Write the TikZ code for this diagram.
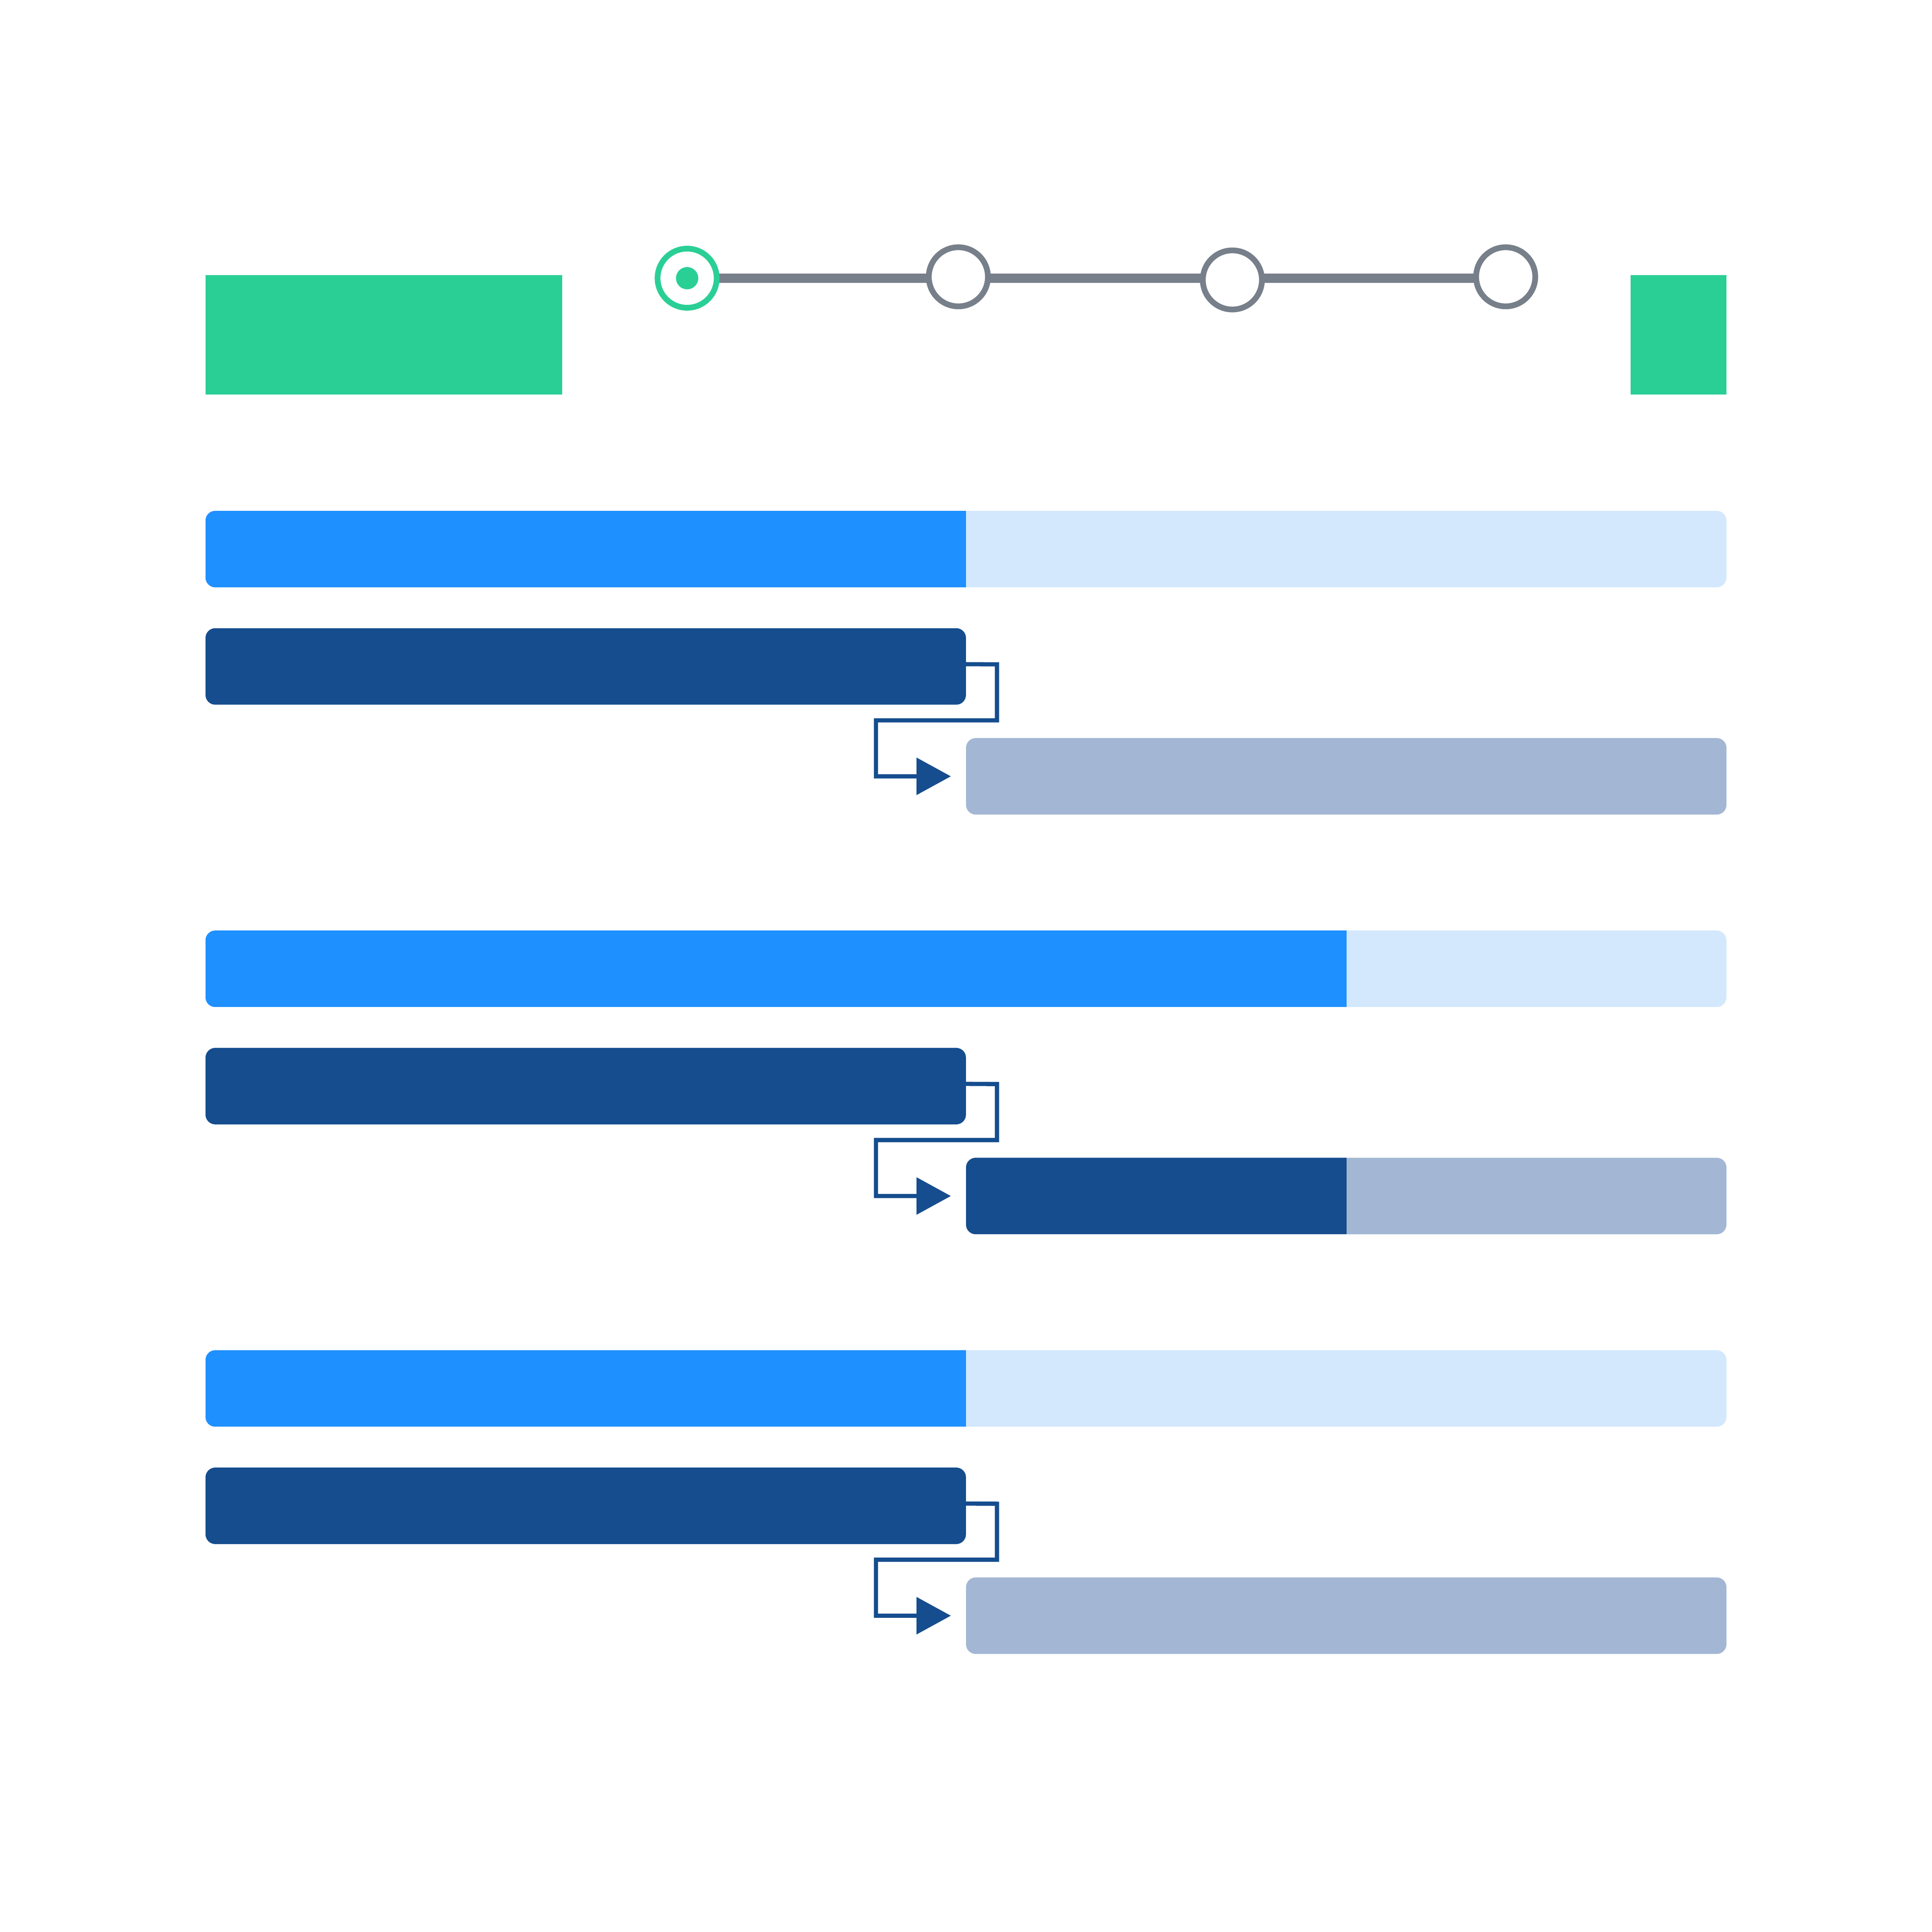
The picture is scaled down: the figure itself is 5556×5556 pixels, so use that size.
\documentclass[tikz,border=0pt]{standalone}
\usetikzlibrary{arrows.meta,backgrounds}
\definecolor{greenc}{RGB}{42,207,150}
\definecolor{greyc}{RGB}{119,127,138}
\definecolor{bluec}{RGB}{30,144,255}
\definecolor{lightc}{RGB}{211,232,253}
\definecolor{darkc}{RGB}{21,77,142}
\definecolor{paleb}{RGB}{163,183,212}
\tikzset{
  bar/.style={rectangle, inner sep=0pt, outer sep=0pt, minimum height=22pt, anchor=north west, rounded corners=2.8pt},
  ms/.style={circle, draw=greyc, fill=white, minimum size=17pt, inner sep=0pt, outer sep=0pt, line width=1.65pt},
  tl/.style={draw=greyc, line width=2.6pt},
  conn/.style={draw=darkc, line width=1.2pt, -{Triangle[length=9.9pt,width=10.5pt]}},
}
\begin{document}
\begin{tikzpicture}[x=0.1pt,y=-0.1pt]
\useasboundingbox (0,0) rectangle (5556,5556);
% header
\fill[greenc] (591,791) rectangle (1617,1135);
\fill[greenc] (4689,791) rectangle (4965,1135);
\node[ms, draw=greenc] (c1) at (1976,800) {};
\fill[greenc] (c1.center) circle (3.2pt);
\node[ms] (c2) at (2756,796) {};
\node[ms] (c3) at (3544,805) {};
\node[ms] (c4) at (4330,796) {};
\begin{scope}[on background layer]
  \fill[white] (0,0) rectangle (5556,5556);
  \draw[tl] (c1.center) -- (c1.center -| c4.center);
\end{scope}
% group 1
\node[bar, fill=lightc, minimum width=437.4pt] (p1) at (591,1469) {};
\begin{scope}
  \clip[rounded corners=2.8pt] (p1.north west) rectangle (p1.south east);
  \fill[bluec] (p1.north west) rectangle (2778,1689);
\end{scope}
\node[bar, fill=darkc, minimum width=218.7pt] (d1) at (591,1806.5) {};
\node[bar, fill=paleb, minimum width=218.7pt] (g1) at (2778,2122.5) {};
\draw[conn] ([yshift=.65pt]d1.east) -- (2867,1910.5) -- (2867,2071.5) -- (2519,2071.5) -- (2519,2232.5) -- ([xshift=-4.35pt]g1.west);
% group 2
\begin{scope}[yshift=-120.7pt]
\node[bar, fill=lightc, minimum width=437.4pt] (p2) at (591,1469) {};
\begin{scope}
  \clip[rounded corners=2.8pt] (p2.north west) rectangle (p2.south east);
  \fill[bluec] (p2.north west) rectangle (3872,1689);
\end{scope}
\node[bar, fill=darkc, minimum width=218.7pt] (d2) at (591,1806.5) {};
\node[bar, fill=paleb, minimum width=218.7pt] (g2) at (2778,2122.5) {};
\begin{scope}
  \clip[rounded corners=2.8pt] (g2.north west) rectangle (g2.south east);
  \fill[darkc] (g2.north west) rectangle (3872,2342.5);
\end{scope}
\draw[conn] ([yshift=.65pt]d2.east) -- (2867,1910.5) -- (2867,2071.5) -- (2519,2071.5) -- (2519,2232.5) -- ([xshift=-4.35pt]g2.west);
\end{scope}
% group 3
\begin{scope}[yshift=-241.4pt]
\node[bar, fill=lightc, minimum width=437.4pt] (p3) at (591,1469) {};
\begin{scope}
  \clip[rounded corners=2.8pt] (p3.north west) rectangle (p3.south east);
  \fill[bluec] (p3.north west) rectangle (2778,1689);
\end{scope}
\node[bar, fill=darkc, minimum width=218.7pt] (d3) at (591,1806.5) {};
\node[bar, fill=paleb, minimum width=218.7pt] (g3) at (2778,2122.5) {};
\draw[conn] ([yshift=.65pt]d3.east) -- (2867,1910.5) -- (2867,2071.5) -- (2519,2071.5) -- (2519,2232.5) -- ([xshift=-4.35pt]g3.west);
\end{scope}
\end{tikzpicture}
\end{document}
